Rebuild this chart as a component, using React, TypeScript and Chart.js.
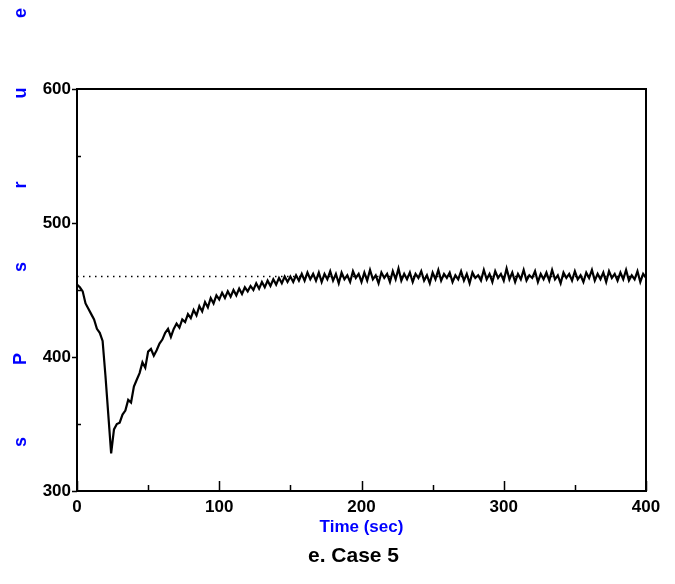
import React, { useEffect, useRef } from "react";
import { Chart, registerables } from "chart.js";
Chart.register(...registerables);

// Time step between samples (sec)
const TIME_STEP = 2;
// t = 0 .. 24 s
const dropPhase = [454, 452, 449, 440, 436, 432, 428, 421, 418, 412, 386, 357, 328];
// t = 26 .. 172 s
const recoveryPhase = [
  346, 350, 351, 357, 360, 368, 366, 378, 383, 388,
  396, 392, 404, 406, 401, 405, 410, 413, 418, 421,
  415, 421, 425, 422, 428, 426, 432, 429, 435, 431,
  438, 434, 441, 437, 444, 440, 446, 443, 448, 444,
  449, 445, 450, 446, 451, 447, 452, 449, 453, 450,
  455, 451, 456, 452, 457, 453, 458, 454, 459, 455,
  460, 456, 460, 456, 461, 457, 462, 457, 463, 458,
  462, 457, 463, 456,
];
// t = 174 .. 400 s
const steadyPhase = [
  462, 458, 464, 457, 462, 455, 463, 458, 461, 456,
  464, 459, 462, 456, 463, 457, 465, 458, 461, 455,
  463, 459, 462, 456, 464, 458, 466, 457, 462, 458,
  463, 456, 462, 459, 464, 457, 461, 455, 463, 458,
  465, 457, 462, 459, 463, 456, 461, 458, 464, 457,
  462, 455, 463, 459, 461, 457, 465, 458, 462, 456,
  464, 459, 462, 457, 466, 458, 463, 456, 462, 458,
  465, 457, 461, 459, 464, 456, 462, 458, 463, 457,
  465, 458, 461, 455, 463, 459, 462, 457, 464, 458,
  461, 456, 463, 459, 465, 457, 462, 458, 463, 456,
  464, 459, 462, 457, 463, 458, 465, 457, 461, 458,
  464, 456, 462, 459,
];
const setPoint = 460;
const xRange = [0, 400];
const yRange = [300, 600];
const xMajorTicks = [0, 100, 200, 300, 400];
const xMinorTicks = [50, 150, 250, 350];
const yMajorTicks = [300, 400, 500, 600];
const yMinorTicks = [350, 450, 550];
const xTitle = "Time (sec)";
const caption = "e. Case 5";
// the y-axis title as it appears: scattered letters, bottom to top
const yTitleLetters = ["s", "P", "s", "r", "u", "e"];

const FONT = "'Liberation Sans', Arial, Helvetica, sans-serif";

const decorPlugin = {
  id: "decor",
  afterDraw(chart: any) {
    const { ctx, chartArea } = chart;
    const xs = chart.scales.x;
    const ys = chart.scales.y;
    const { left, right, top, bottom } = chartArea;
    ctx.save();
    ctx.strokeStyle = "#000";
    ctx.lineWidth = 2;
    ctx.strokeRect(left, top, right - left, bottom - top);
    ctx.beginPath();
    ctx.lineWidth = 1.5;
    xMajorTicks.forEach((v) => {
      const px = Math.round(xs.getPixelForValue(v)) + 0.5;
      ctx.moveTo(px, bottom);
      ctx.lineTo(px, bottom - 10);
    });
    xMinorTicks.forEach((v) => {
      const px = Math.round(xs.getPixelForValue(v)) + 0.5;
      ctx.moveTo(px, bottom);
      ctx.lineTo(px, bottom - 6);
    });
    yMajorTicks.forEach((v) => {
      const py = Math.round(ys.getPixelForValue(v)) + 0.5;
      ctx.moveTo(left, py);
      ctx.lineTo(left - 5, py);
    });
    yMinorTicks.forEach((v) => {
      const py = Math.round(ys.getPixelForValue(v)) + 0.5;
      ctx.moveTo(left, py);
      ctx.lineTo(left + 4, py);
    });
    ctx.stroke();

    // x title
    ctx.fillStyle = "#0000ff";
    ctx.font = `bold 17px ${FONT}`;
    ctx.textAlign = "center";
    ctx.textBaseline = "middle";
    const cx = (left + right) / 2;
    ctx.fillText(xTitle, cx, 527);
    // caption
    ctx.fillStyle = "#000";
    ctx.font = `bold 21px ${FONT}`;
    ctx.fillText(caption, cx - 8, 556);

    // y title letters
    ctx.fillStyle = "#0000ff";
    ctx.font = `bold 18px ${FONT}`;
    const letterY = [442, 359, 267, 185, 93, 13];
    yTitleLetters.forEach((ch, i) => {
      ctx.save();
      ctx.translate(21, letterY[i]);
      ctx.rotate(-Math.PI / 2);
      ctx.fillText(ch, 0, 0);
      ctx.restore();
    });
    ctx.restore();
  },
};

export default function App() {
  const ref = useRef<HTMLCanvasElement | null>(null);
  useEffect(() => {
    document.body.style.margin = "0";
    const values = [...dropPhase, ...recoveryPhase, ...steadyPhase];
    const points = values.map((v, i) => ({ x: i * TIME_STEP, y: v }));
    const chart = new Chart(ref.current as HTMLCanvasElement, {
      type: "line",
      data: {
        datasets: [
          {
            data: points,
            borderColor: "#000",
            borderWidth: 2.2,
            pointRadius: 0,
            tension: 0,
            fill: false,
          },
          {
            data: [
              { x: xRange[0], y: setPoint },
              { x: xRange[1], y: setPoint },
            ],
            borderColor: "#000",
            borderWidth: 1.5,
            borderDash: [1.5, 4.5],
            pointRadius: 0,
            fill: false,
          },
        ],
      },
      options: {
        animation: false,
        responsive: false,
        devicePixelRatio: 1,
        layout: { padding: { left: 0, top: 89, right: 29, bottom: 0 } },
        plugins: {
          legend: { display: false },
          tooltip: { enabled: false },
          title: { display: false },
        },
        scales: {
          x: {
            type: "linear",
            min: xRange[0],
            max: xRange[1],
            border: { display: false },
            grid: { display: false, drawTicks: false },
            ticks: {
              stepSize: 100,
              padding: 6,
              color: "#000",
              maxRotation: 0,
              font: { family: FONT, size: 17, weight: "bold" },
            },
            afterFit: (s: any) => {
              s.height = 93;
            },
          },
          y: {
            type: "linear",
            min: yRange[0],
            max: yRange[1],
            border: { display: false },
            grid: { display: false, drawTicks: false },
            ticks: {
              stepSize: 100,
              padding: 6,
              color: "#000",
              font: { family: FONT, size: 17, weight: "bold" },
            },
            afterFit: (s: any) => {
              s.width = 77;
            },
          },
        },
      },
      plugins: [decorPlugin],
    });
    return () => chart.destroy();
  }, []);
  return (
    <div style={{ position: "absolute", left: 0, top: 0, width: 675, height: 584, background: "#fff" }}>
      <canvas ref={ref} width={675} height={584} />
    </div>
  );
}
